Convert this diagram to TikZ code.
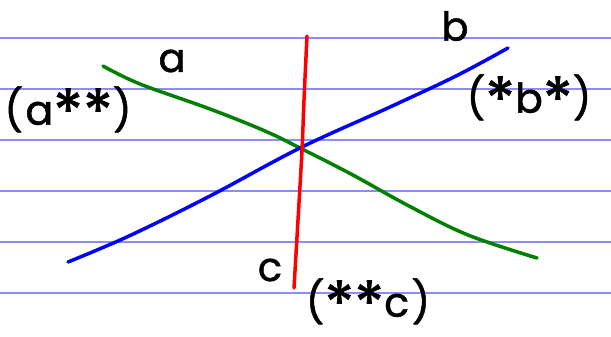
\documentclass[tikz,border=0pt]{standalone}
\usepackage{fontspec}
\newfontfamily\handfont[LetterSpace=6,FakeBold=1.2]{Poppins}
\newcommand{\hast}{\raisebox{-0.22em}{\scalebox{1.5}{*}}}
\definecolor{rule}{RGB}{140,140,255}
\definecolor{pgreen}{RGB}{0,128,0}
\begin{document}
\begin{tikzpicture}[x=1pt,y=-1pt,
  ruleline/.style={draw=rule,line width=1.2pt},
  stroke/.style={line width=3.5pt,line cap=round,line join=round},
  lbl/.style={inner sep=0pt,font=\handfont\fontsize{40}{40}\selectfont},
  plbl/.style={inner sep=0pt,font=\handfont\fontsize{41}{41}\selectfont}]
\useasboundingbox (0,0) rectangle (611,337);
\fill[white] (0,0) rectangle (611,337);
% ruled paper
\foreach \y/\n in {38/r1,89/r2,140/r3,191/r4,242/r5,293/r6} {
  \coordinate (\n l) at (0,\y);
  \coordinate (\n r) at (611,\y);
  \draw[ruleline] (\n l) -- (\n r);
}
% line ends
\coordinate (ga) at (103,66);
\coordinate (gb) at (537,258);
\coordinate (ba) at (68,262);
\coordinate (bb) at (508,48);
\coordinate (ra) at (307,36);
\coordinate (rb) at (294,288);
% green
\draw[stroke,pgreen] plot[smooth,tension=0.6] coordinates
  {(ga) (140,84) (210,109) (265,131) (300,148) (351,174) (409,206) (468,235) (gb)};
% blue
\draw[stroke,blue] plot[smooth,tension=0.6] coordinates
  {(ba) (129,236) (210,196) (300,148) (390,107) (456,76) (bb)};
% red
\draw[stroke,red] plot[smooth,tension=0.6] coordinates
  {(ra) (304,100) (302,150) (298,220) (rb)};
% labels
\node[lbl] (la) at (172,61) {a};
\node[lbl] (lb) at (455,26) {b};
\node[lbl] (lc) at (270,270) {c};
\node[plbl] (lax) at (68,110) {(a\hast\hast)};
\node[plbl] (lbx) at (529,98) {(\hast b\hast)};
\node[plbl] (lcx) at (368,302) {(\hast\hast c)};
\end{tikzpicture}
\end{document}
